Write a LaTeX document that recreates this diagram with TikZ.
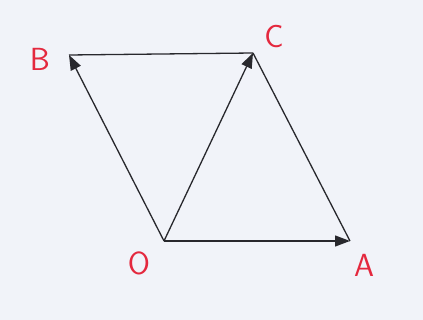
\documentclass[tikz,border=0pt]{standalone}
\usetikzlibrary{arrows.meta}
\definecolor{paper}{RGB}{241,243,249}
\definecolor{ink}{RGB}{40,40,45}
\definecolor{redink}{RGB}{228,40,62}
\begin{document}
\begin{tikzpicture}[x=1pt,y=-1pt,
  vec/.style={draw=ink,line width=1.3pt,-{Triangle[length=15pt,width=11pt]}},
  seg/.style={draw=ink,line width=1.3pt},
  lbl/.style={text=redink,font=\sffamily\fontsize{32}{32}\selectfont,inner sep=0pt}]
\fill[paper] (0,0) rectangle (423,320);
\useasboundingbox (0,0) rectangle (423,320);
\coordinate (O) at (164,241);
\coordinate (A) at (350,241);
\coordinate (C) at (253,53);
\coordinate (B) at (69,55);
\draw[seg] (B) -- (C);
\draw[seg] (C) -- (A);
\draw[vec] (O) -- (A);
\draw[vec] (O) -- (C);
\draw[vec] (O) -- (B);
\node[lbl] (lB) at (40,59) {B};
\node[lbl] (lC) at (274,37) {C};
\node[lbl] (lA) at (364,265) {A};
\node[lbl] (lO) at (139,263) {O};
\end{tikzpicture}
\end{document}
